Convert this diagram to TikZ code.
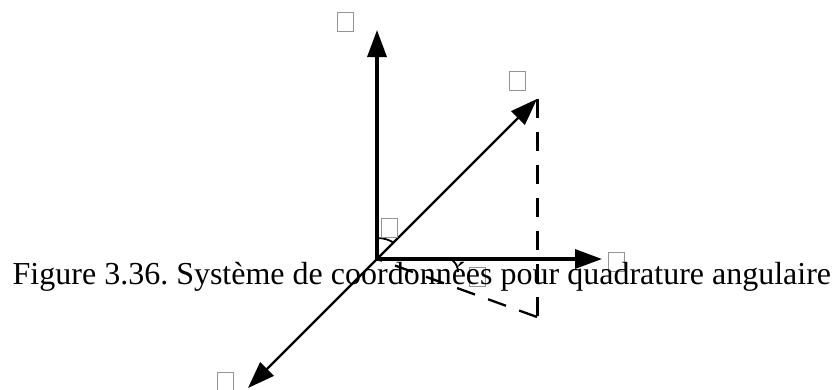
\documentclass[tikz,border=0pt]{standalone}
\usepackage{fontspec}
\setmainfont{Liberation Serif}
\frenchspacing
\usetikzlibrary{arrows.meta}
\tikzset{
  axis/.style={line width=3.3pt,-{Triangle[length=27pt,width=19pt]}},
  thinaxis/.style={line width=2.3pt,-{Triangle[length=27pt,width=19pt]}},
  dashline/.style={line width=3pt,dash pattern=on 19pt off 14pt},
  slantdash/.style={line width=2.3pt,dash pattern=on 19pt off 14pt},
  anglearc/.style={line width=1.8pt},
  tofu/.style={draw=black!42,line width=0.9pt,inner sep=0pt,minimum width=16pt,minimum height=19pt},
  caption/.style={inner sep=0pt,font=\fontsize{32}{36}\selectfont,anchor=base west}
}
\begin{document}
\begin{tikzpicture}[x=1pt,y=-1pt]
\useasboundingbox (0,0) rectangle (834,389);
\coordinate (O) at (377,259);
\coordinate (Y) at (377,30);
\coordinate (X) at (602,259);
\coordinate (R) at (537,99);
\coordinate (Z) at (248,388);
\coordinate (P) at (537,317);
\draw[axis] (O) -- (Y);
\draw[axis] (O) -- (X);
\draw[thinaxis] (O) -- (R);
\draw[thinaxis] (O) -- (Z);
\draw[dashline] (R) -- (P);
\draw[slantdash] (P) -- (O);
\coordinate (a1) at (377,238);
\coordinate (a2) at (394,243);
\coordinate (b1) at (452,260);
\coordinate (b2) at (458,272);
\draw[anglearc] (a1) .. controls (384,238) and (390,240) .. (a2);
\draw[anglearc] (b1) .. controls (456,263) and (458,267) .. (b2);
\node[tofu] (t1) at (345.5,22) {};
\node[tofu] (t2) at (517.5,80.5) {};
\node[tofu] (t3) at (389,227.5) {};
\node[tofu] (t4) at (477,276.5) {};
\node[tofu] (t5) at (616.5,262) {};
\node[tofu] (t6) at (225.5,382) {};
\node[caption] (cap) at (12.5,284) {Figure 3.36. Système de coordonnées pour quadrature angulaire};
\end{tikzpicture}
\end{document}
